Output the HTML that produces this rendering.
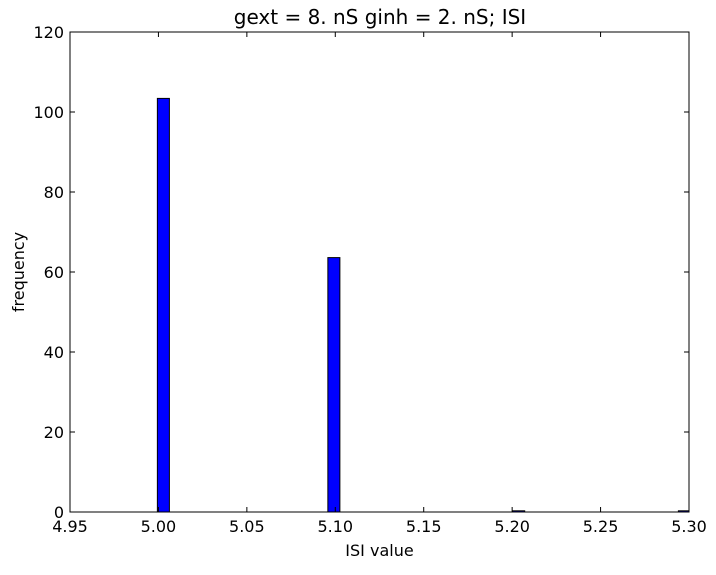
<!DOCTYPE html>
<html><head><meta charset="utf-8"><style>
body{margin:0;background:#fff;}
svg text{font-family:"DejaVu Sans","Liberation Sans",sans-serif;}
</style></head><body>
<svg id="chart" width="716" height="570" xmlns="http://www.w3.org/2000/svg">
<rect width="716" height="570" fill="#fff"/>
<text x="380" y="24" font-size="20" text-anchor="middle">gext = 8. nS ginh = 2. nS; ISI</text>
<g id="bars"></g>
<g id="axes"></g>
<text x="379.5" y="556" font-size="16" text-anchor="middle">ISI value</text>
<text transform="translate(24,272) rotate(-90)" font-size="16" text-anchor="middle">frequency</text>
</svg>
<script>
const binStarts=[4.9994,5.0958,5.2003,5.294];
const counts=[103.4,63.6,0.3,0.3];
const binWidth=0.0068;
const xTicks=["4.95","5.00","5.05","5.10","5.15","5.20","5.25","5.30"];
const yTicks=[0,20,40,60,80,100,120];
const L=70,R=689,T=32,B=512,xmin=4.95,xmax=5.30,ymax=120;
const X=v=>L+(v-xmin)/(xmax-xmin)*(R-L);
const Y=v=>B-v/ymax*(B-T);
const ns="http://www.w3.org/2000/svg";
const bars=document.getElementById('bars'),axes=document.getElementById('axes');
function mk(t,a,p){const e=document.createElementNS(ns,t);for(const k in a)e.setAttribute(k,a[k]);p.appendChild(e);return e;}
binStarts.forEach((s,i)=>{
  const x0=X(s),x1=Math.min(X(s+binWidth),R);
  const r=mk('rect',{x:x0,y:Y(counts[i]),width:x1-x0,height:B-Y(counts[i]),fill:'#0000ff',stroke:'#000','stroke-width':1},bars);
  
  
});
const fr=mk('rect',{x:L,y:T,width:R-L,height:B-T,fill:'none',stroke:'#000','stroke-width':1},axes);


xTicks.forEach(t=>{
  const x=X(parseFloat(t));
  mk('line',{x1:x,x2:x,y1:B,y2:B-5,stroke:'#000'},axes);
  mk('line',{x1:x,x2:x,y1:T,y2:T+5,stroke:'#000'},axes);
  const tx=mk('text',{x:x,y:B+20,'font-size':16,'text-anchor':'middle'},axes);
  tx.textContent=t;
  
  
});
yTicks.forEach(t=>{
  const y=Y(t);
  mk('line',{x1:L,x2:L+5,y1:y,y2:y,stroke:'#000'},axes);
  mk('line',{x1:R,x2:R-5,y1:y,y2:y,stroke:'#000'},axes);
  const tx=mk('text',{x:L-6,y:y+6,'font-size':16,'text-anchor':'end'},axes);
  tx.textContent=t;
  
  
});
</script>
</body></html>
